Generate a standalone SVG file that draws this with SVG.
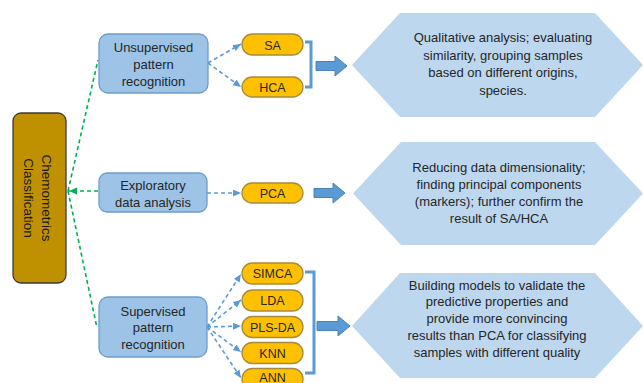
<svg xmlns="http://www.w3.org/2000/svg" width="643" height="383" viewBox="0 0 643 383">
<defs>
<style>
text{font-family:"Liberation Sans",Arial,sans-serif;font-size:13px;fill:#262626;text-anchor:middle}
.pt{font-size:12.5px}
.box{fill:#9DC3E6;stroke:#6D9CCB;stroke-width:1.3}
.pill{fill:#FFC000;stroke:#A88A3A;stroke-width:1.3}
.hex{fill:#BDD7EE}
.dash{fill:none;stroke:#5B9BD5;stroke-width:1.6;stroke-dasharray:4 3}
.green{fill:none;stroke:#00B050;stroke-width:1.6;stroke-dasharray:4 3}
.brk{fill:none;stroke:#5B9BD5;stroke-width:3}
.blk{fill:#5B9BD5;stroke:#4A82B8;stroke-width:1}
</style>
<marker id="ab" markerUnits="userSpaceOnUse" markerWidth="9" markerHeight="8" refX="8" refY="3.5" orient="auto">
<path d="M0,0 L8,3.5 L0,7 z" fill="#5B9BD5"/>
</marker>
<marker id="ag" markerUnits="userSpaceOnUse" markerWidth="9" markerHeight="8" refX="8" refY="3.5" orient="auto">
<path d="M0,0 L8,3.5 L0,7 z" fill="#00B050"/>
</marker>
</defs>
<rect width="643" height="383" fill="#FFFFFF"/>

<g id="connectors">
<line class="green" x1="68" y1="191" x2="98" y2="60"/>
<line class="green" x1="68" y1="191" x2="97" y2="328"/>
<line class="green" x1="98" y1="191" x2="69" y2="191" marker-end="url(#ag)"/>
<line class="dash" x1="208" y1="63" x2="241" y2="44" marker-end="url(#ab)"/>
<line class="dash" x1="208" y1="63" x2="241" y2="87" marker-end="url(#ab)"/>
<line class="dash" x1="207" y1="193" x2="241" y2="193" marker-end="url(#ab)"/>
<line class="dash" x1="207" y1="327" x2="241" y2="274" marker-end="url(#ab)"/>
<line class="dash" x1="207" y1="327" x2="241" y2="300" marker-end="url(#ab)"/>
<line class="dash" x1="207" y1="327" x2="241" y2="326" marker-end="url(#ab)"/>
<line class="dash" x1="207" y1="327" x2="241" y2="352" marker-end="url(#ab)"/>
<line class="dash" x1="207" y1="327" x2="241" y2="378" marker-end="url(#ab)"/>
<path class="brk" d="M305,42 H311 V87 H305"/>
<path class="brk" d="M305,272 H314 V373 H305"/>
<polygon class="blk" points="316,61.5 335,61.5 335,56 347,66 335,76 335,70.5 316,70.5"/>
<polygon class="blk" points="314,188.5 333,188.5 333,183 345,193 333,203 333,197.5 314,197.5"/>
<polygon class="blk" points="317,321.5 338,321.5 338,316 350,326 338,336 338,330.5 317,330.5"/>
</g>

<g id="chemometrics">
<rect x="13" y="113" width="53" height="170" rx="8" fill="#BF9000" stroke="#3A3A3A" stroke-width="1.3"/>
<text transform="translate(37,198) rotate(90)" style="font-size:13.5px;fill:#1A1A1A"><tspan x="0" y="-4.5">Chemometrics</tspan><tspan x="0" y="13">Classification</tspan></text>
</g>

<g id="unsupervised">
<rect class="box" x="99" y="34" width="109" height="59" rx="9"/>
<text><tspan x="153.5" y="51.5">Unsupervised</tspan><tspan x="153.5" y="68.5">pattern</tspan><tspan x="153.5" y="86">recognition</tspan></text>
</g>
<g id="exploratory">
<rect class="box" x="99" y="173" width="108" height="39" rx="8"/>
<text><tspan x="153" y="189.5">Exploratory</tspan><tspan x="153" y="206.5">data analysis</tspan></text>
</g>
<g id="supervised">
<rect class="box" x="99" y="297" width="108" height="60" rx="9"/>
<text><tspan x="153" y="315.5">Supervised</tspan><tspan x="153" y="331.5">pattern</tspan><tspan x="153" y="348.5">recognition</tspan></text>
</g>

<g id="sa"><rect class="pill" x="242" y="34" width="61" height="21" rx="10.5"/><text class="pt" x="272.5" y="49.5">SA</text></g>
<g id="hca"><rect class="pill" x="242" y="77" width="61" height="20" rx="10"/><text class="pt" x="272.5" y="91.5">HCA</text></g>
<g id="pca"><rect class="pill" x="242" y="183" width="61" height="20" rx="10"/><text class="pt" x="272.5" y="197.5">PCA</text></g>
<g id="simca"><rect class="pill" x="242" y="263" width="61" height="21" rx="10.5"/><text class="pt" x="272.5" y="278">SIMCA</text></g>
<g id="lda"><rect class="pill" x="242" y="290" width="61" height="21" rx="10.5"/><text class="pt" x="272.5" y="305">LDA</text></g>
<g id="plsda"><rect class="pill" x="242" y="316.5" width="61" height="21" rx="10.5"/><text class="pt" x="272.5" y="331.5">PLS-DA</text></g>
<g id="knn"><rect class="pill" x="242" y="342.5" width="61" height="21" rx="10.5"/><text class="pt" x="272.5" y="357.5">KNN</text></g>
<g id="ann"><rect class="pill" x="242" y="368.5" width="61" height="21" rx="10.5"/><text class="pt" x="272.5" y="381.5">ANN</text></g>

<g id="hex1">
<polygon class="hex" points="352,65 400,13 595,13 643,65 595,117 400,117"/>
<text><tspan x="503" y="41.5">Qualitative analysis; evaluating</tspan><tspan x="503" y="59.5">similarity,  grouping samples</tspan><tspan x="503" y="76.5">based on different origins,</tspan><tspan x="503" y="94.5">species.</tspan></text>
</g>
<g id="hex2">
<polygon class="hex" points="353,193.5 401,142 595,142 643,193.5 595,245 401,245"/>
<text><tspan x="499" y="171.5">Reducing data dimensionality;</tspan><tspan x="499" y="188.5">finding principal components</tspan><tspan x="499" y="205.5">(markers); further confirm the</tspan><tspan x="499" y="222.5">result of SA/HCA</tspan></text>
</g>
<g id="hex3">
<polygon class="hex" points="352,326 400,273 595,273 643,326 595,378 400,378"/>
<text><tspan x="497" y="289.5">Building models to validate the</tspan><tspan x="497" y="306">predictive properties and</tspan><tspan x="497" y="323">provide more convincing</tspan><tspan x="497" y="340">results than PCA for classifying</tspan><tspan x="497" y="356.5">samples with different quality</tspan></text>
</g>
</svg>
